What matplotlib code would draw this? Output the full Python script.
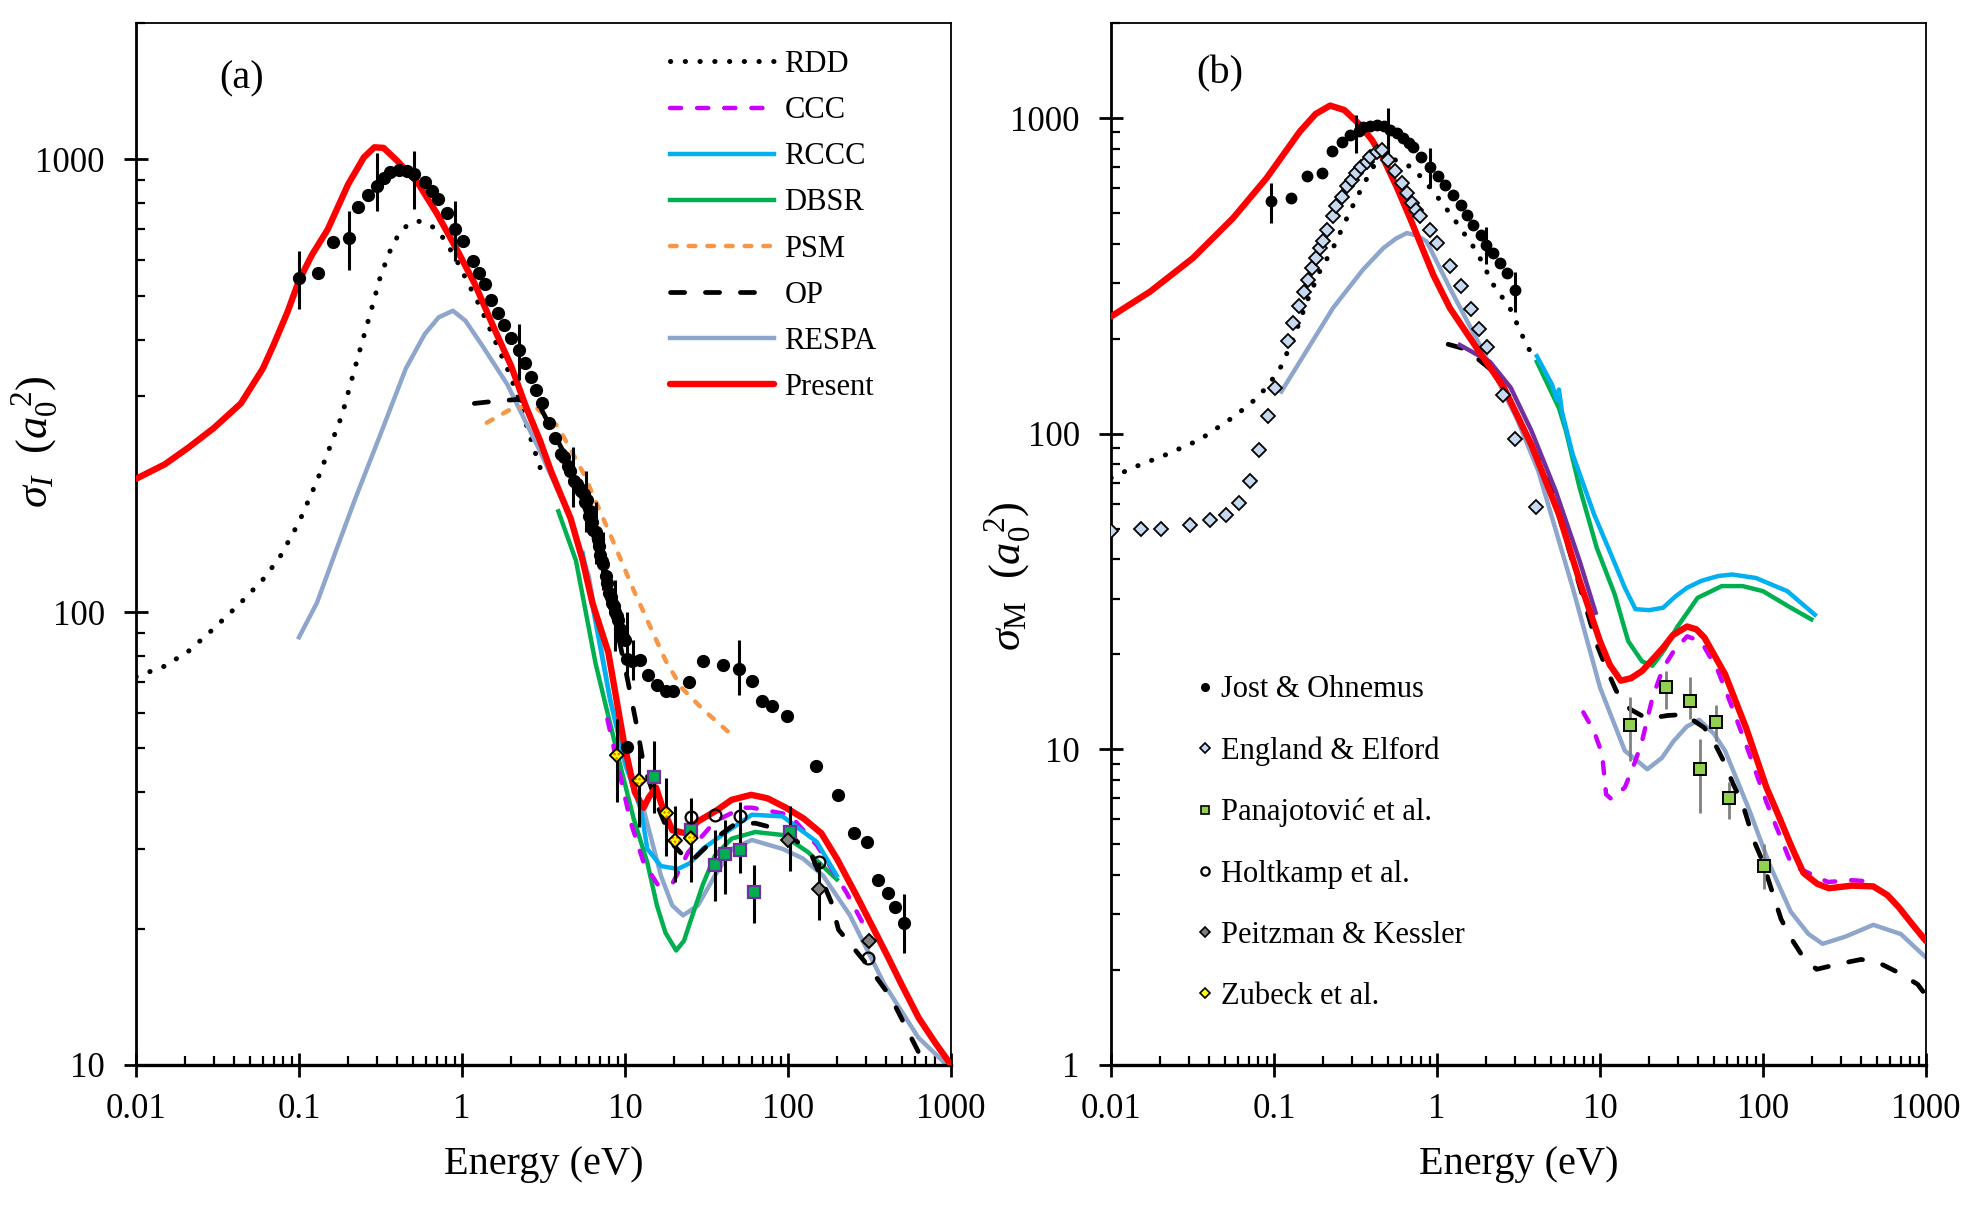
import matplotlib
matplotlib.use('Agg')

import numpy as np
import matplotlib.pyplot as plt
from matplotlib.lines import Line2D
from matplotlib.ticker import LogLocator, FuncFormatter, NullFormatter

plt.rcParams['font.family'] = ['Liberation Serif', 'DejaVu Serif']
plt.rcParams['mathtext.fontset'] = 'custom'
plt.rcParams['mathtext.rm'] = 'Liberation Serif'
plt.rcParams['mathtext.it'] = 'Liberation Serif:italic'
plt.rcParams['hatch.linewidth'] = 1.2

# ---------------- panel (a): sigma_I ----------------
a_present_e = [0.01, 0.015, 0.021, 0.03, 0.044, 0.06, 0.07, 0.085, 0.1, 0.12, 0.15, 0.2, 0.25, 0.29, 0.33,
               0.4, 0.54, 0.7, 0.93, 1.2, 1.59, 2.0, 2.47, 3.0, 3.55, 4.64, 5.5, 6.3, 7.9, 9.9, 11.5,
               13.0, 14.0, 15.5, 17.0, 19.5, 23.4, 28, 36.5, 45, 59.5, 75, 97, 125, 160, 200, 261,
               330, 411, 500, 634, 800, 1000]
a_present = [197, 212, 231, 255, 289, 345, 390, 460, 540, 615, 700, 880, 1010, 1063, 1060,
             993, 883, 760, 632, 530, 420, 350, 284, 240, 203, 161, 130, 105, 81.5, 51, 40,
             37, 39, 41, 37, 33, 32.5, 34.5, 36.5, 38.5, 39.5, 38.8, 37, 35, 32.5, 28.5, 23.8,
             20.2, 17.3, 15, 12.7, 11.2, 10]

a_rdd_e = [0.01, 0.015, 0.021, 0.03, 0.044, 0.06, 0.076, 0.1, 0.129, 0.155, 0.184, 0.21, 0.24, 0.28,
           0.316, 0.36, 0.41, 0.47, 0.54, 0.62, 0.71, 0.8, 0.93, 1.3, 2.0, 3.2]
a_rdd = [72, 76, 82, 92, 105, 118, 132, 158, 195, 232, 273, 325, 387, 470,
         552, 625, 685, 720, 730, 720, 697, 655, 597, 470, 330, 195]

a_respa_e = [0.1, 0.129, 0.169, 0.22, 0.316, 0.452, 0.59, 0.72, 0.88, 1.05, 1.33, 1.89, 2.97, 4.5,
             6.0, 8.0, 10.0, 13.1, 16.6, 19.5, 22.7, 28, 35.6, 45.3, 60, 92.7, 123, 164, 240, 389,
             630, 1000]
a_respa = [88, 105, 137, 177, 247, 345, 411, 448, 463, 440, 388, 319, 229, 165,
           120, 66, 46, 36.3, 26.2, 22.5, 21.4, 22.5, 26.2, 30, 31.4, 30, 28.6, 26.2, 21.4, 15.1,
           11.5, 9.8]

a_dbsr_e = [3.9, 5.0, 6.6, 9.2, 11.3, 13.7, 15.7, 17.7, 20.6, 23, 25, 30, 35.6, 45, 63, 93, 133, 199]
a_dbsr = [167, 130, 77, 47, 35, 28, 22.5, 19.6, 17.9, 18.8, 20.6, 25, 29, 31.6, 32.7, 32.2, 29.5, 25.7]

a_rccc_e = [5.5, 8.1, 10.3, 12.6, 13.7, 16.6, 21.1, 25, 30, 39.4, 60, 92.7, 150, 199]
a_rccc = [135, 64, 45, 36.3, 30, 27.5, 27.1, 27.9, 30, 32.2, 35.7, 35.4, 31.1, 26.2]

a_ccc_e = [7.8, 10.8, 13, 15.9, 19.7, 24.4, 35.6, 52.4, 60, 102, 150, 229, 300]
a_ccc = [58, 34.5, 28, 25, 25.3, 29.5, 34.5, 37, 37, 35.7, 30.6, 24, 20]

a_psm_e = [1.42, 2.0, 2.72, 3.88, 5.55, 7.95, 11.4, 17.8, 22.3, 30.5, 45.6, 48]
a_psm = [262, 281, 287, 257, 203, 151, 111, 78, 68, 60.7, 53.4, 52.5]

a_op_e = [1.19, 1.55, 2.2, 3.0, 4.5, 6.0, 8.0, 10.2, 11.7, 13.1, 16, 20, 25, 35.6, 47, 63, 76,
          110, 140, 185, 204, 300, 428, 630, 740]
a_op = [289, 292, 295, 285, 215, 160, 110, 73, 57, 45.5, 37, 30.5, 28, 31.6, 34, 34.2, 33.6,
        31.5, 29, 22.8, 19.9, 16.8, 14.1, 10.7, 9.8]

a_jost_e = [0.1, 0.131, 0.162, 0.202, 0.231, 0.264, 0.302, 0.33, 0.36, 0.41, 0.46, 0.51, 0.59, 0.65,
            0.71, 0.81, 0.905, 1.01, 1.16, 1.27, 1.39, 1.51, 1.66, 1.81, 1.99, 2.23, 2.44, 2.64,
            2.84, 3.1, 3.4, 3.7, 4.07, 4.2, 4.44, 4.6, 4.87, 5.1, 5.3, 5.4, 5.6, 5.7, 5.82, 6.0,
            6.1, 6.3, 6.4, 6.6, 6.8, 6.9, 7.0, 7.2, 7.3, 7.6, 7.8, 8.0, 8.2, 8.3, 8.5, 8.7, 8.9,
            9.1, 9.3, 9.5, 9.7, 10.0, 10.3, 10.3, 11.0, 12.3, 13.9, 15.7, 17.9, 19.7,
            24.8, 30.2, 39.7, 49.8, 60, 69.6, 80, 99, 148, 203, 254, 305, 357, 410, 455, 513]
a_jost = [546, 560, 656, 671, 785, 832, 874, 909, 936, 945, 940, 927, 890, 850,
          817, 763, 700, 659, 597, 562, 531, 490, 458, 431, 403, 380, 355, 330,
          310, 289, 262, 242, 224, 220, 210, 205, 195, 192, 187, 185, 182, 175, 177, 163,
          167, 158, 152, 150, 145, 140, 134, 130, 128, 120, 116, 110, 108, 105, 103, 100, 98,
          96, 92, 90, 88, 87, 79, 50.5, 78, 78.5, 72.8, 69.2, 66.9, 66.9,
          70, 78, 76.6, 75, 70.4, 63.5, 62.2, 58.9, 45.7, 39.5, 32.5, 31, 25.6, 24, 22.3, 20.6]
a_jost_bar_e = [0.1, 0.202, 0.302, 0.51, 0.905, 2.23, 4.8, 5.8, 6.6, 7.3, 8.65, 10.3, 11.2, 50, 513]
a_jost_bar_lo = [466, 571, 770, 778, 597, 325, 171, 150, 128, 112, 82, 71, 71, 65.5, 17.7]
a_jost_bar_hi = [626, 770, 1031, 1041, 808, 432, 232, 205, 175, 150, 118, 100, 87, 87, 23.9]

a_square_e = [15.1, 25.3, 35.6, 40.8, 51, 61.7, 103]
a_square = [43.2, 33.1, 27.6, 29.3, 29.9, 24.1, 32.7]
a_square_lo = [36, 25.3, 23, 23.9, 26.5, 20.6, 26.8]
a_square_hi = [52, 38.8, 33, 34.8, 38, 27.6, 37.4]

a_holt_e = [25.3, 35.6, 51, 155, 311]
a_holt = [35.2, 35.7, 35.4, 28.1, 17.2]

a_peitz_e = [100, 155, 313]
a_peitz = [31.4, 24.5, 18.8]
a_peitz_lo = [31.4, 20.9, 18.8]
a_peitz_hi = [31.4, 28.1, 18.8]

a_zub_e = [8.9, 12.2, 17.9, 20.3, 25.3]
a_zub = [48.3, 42.5, 36, 31.3, 31.7]
a_zub_lo = [38, 33.5, 29, 25.3, 31.7]
a_zub_hi = [58, 52, 43, 37.4, 31.7]

# ---------------- panel (b): sigma_M ----------------
b_present_e = [0.01, 0.0174, 0.0318, 0.0561, 0.09, 0.144, 0.18, 0.221, 0.27, 0.337, 0.4, 0.468, 0.57,
               0.683, 0.95, 1.2, 1.75, 2.57, 3.8, 5.6, 7.5, 10, 11.5, 13.4, 15.5, 18.1, 24.4, 28,
               34.2, 39, 43.7, 58.5, 78.7, 105, 124, 150, 177, 215, 254, 350, 475, 581, 681, 820, 1000]
b_present = [235, 282, 360, 482, 645, 906, 1030, 1095, 1060, 951, 850, 745, 600,
             482, 318, 250, 187, 140, 92, 55.5, 34.1, 22, 18.5, 16.5, 16.8, 17.7, 21, 23,
             24.5, 24, 22.6, 17.3, 11.7, 7.57, 6.2, 4.9, 4.06, 3.75, 3.63, 3.7, 3.68, 3.45, 3.16, 2.8, 2.47]

b_rdd_e = [0.01, 0.0136, 0.022, 0.035, 0.0537, 0.0713, 0.09, 0.109, 0.131, 0.159, 0.191, 0.23, 0.292,
           0.353, 0.447, 0.593, 0.716, 0.95, 1.26, 1.75, 2.21, 2.8, 3.39, 3.9]
b_rdd = [72.4, 78, 86, 95.7, 111, 124, 140, 161, 199, 262, 327, 387, 505,
         614, 764, 728, 693, 585, 482, 378, 297, 250, 201, 174]

b_respa_e = [0.111, 0.23, 0.35, 0.468, 0.56, 0.652, 0.75, 0.865, 1.2, 1.92, 3.08, 4.19, 6.8, 10, 14.2,
             19.5, 24, 28.2, 34, 40.6, 50, 58.5, 82.6, 110, 148, 190, 232, 320, 475, 700, 1000]
b_respa = [136, 250, 330, 387, 415, 432, 425, 406, 289, 182, 112, 76, 32.5, 15.7, 9.9,
           8.65, 9.4, 10.6, 11.8, 12.4, 11.2, 9.9, 6.4, 4.3, 3.06, 2.6, 2.42, 2.55, 2.78, 2.6, 2.19]

b_op_e = [1.17, 1.51, 2.33, 3.61, 4.86, 9.55, 11.1, 12.6, 15.3, 19.5, 26, 33, 43.7, 50.7, 58.5, 64.6,
          75, 81, 87, 98, 129, 148, 177, 213, 305, 400, 520, 680, 890, 1000]
b_op = [192, 185, 154, 97, 70.8, 21.5, 17.7, 15.3, 13.4, 12.5, 12.8, 12.9, 11.7, 10.4, 9.0, 7.9,
        6.7, 5.9, 5.2, 4.5, 2.9, 2.53, 2.19, 2.01, 2.1, 2.16, 2.1, 1.96, 1.8, 1.66]

b_purple_e = [1.38, 2.11, 2.83, 3.8, 5.35, 7.5, 9.4]
b_purple = [191, 169, 140, 102, 65.8, 39.5, 27.1]

b_rccc_e = [4.1, 5.08, 5.45, 5.6, 5.85, 6.8, 9.2, 11.7, 14.2, 16.5, 20, 24.4, 29, 34.2, 42, 53, 64.6,
            90.5, 141, 208]
b_rccc = [176, 143, 128, 138, 117, 86, 55.5, 41.4, 32.5, 27.8, 27.6, 28.1, 30.5, 32.5, 34.2, 35.4, 35.8,
          34.9, 31.7, 26.7]

b_dbsr_e = [4.1, 5.6, 6.18, 7.5, 9.55, 12.3, 14.9, 18.1, 21, 25, 29.6, 39.7, 55.9, 75, 100, 148, 198]
b_dbsr = [169, 120.5, 102, 67.4, 43.5, 31, 22, 19.0, 18.4, 20.8, 24.3, 30.2, 32.9, 32.9, 31.7, 28.1, 25.8]

b_ccc_e = [7.9, 9.2, 10.3, 10.9, 11.7, 14.2, 16.5, 18.1, 21, 24.4, 28.2, 34.2, 41.7, 53, 64.6, 82.6,
           105, 150, 250, 350, 500]
b_ccc = [13.1, 11.4, 9.66, 7.2, 6.97, 7.57, 9.2, 10.6, 14.6, 18.1, 20.4, 22.8, 22, 17.7, 13.6, 9.66,
         6.8, 4.3, 3.8, 3.85, 3.8]

b_jost_e = [0.0955, 0.127, 0.159, 0.196, 0.228, 0.26, 0.292, 0.33, 0.353, 0.39, 0.43, 0.47, 0.515, 0.57,
            0.62, 0.67, 0.716, 0.8, 0.905, 1.02, 1.12, 1.26, 1.4, 1.53, 1.66, 1.85, 2.0, 2.2, 2.44,
            2.7, 3.0]
b_jost = [544, 560, 653, 669, 787, 838, 884, 910, 939, 945, 947, 945, 917, 895,
          863, 832, 812, 755, 702, 653, 614, 571, 531, 494, 459, 427, 397, 373, 347,
          323, 286]
b_jost_bar_e = [0.0955, 0.32, 0.5, 0.905, 2.0, 3.0]
b_jost_bar_lo = [464, 773, 766, 599, 344, 243]
b_jost_bar_hi = [621, 1025, 1072, 802, 453, 326]

b_eng_e = [0.01, 0.0152, 0.0203, 0.0305, 0.0405, 0.0508, 0.0613, 0.0713, 0.0813, 0.0914, 0.1014, 0.122,
           0.131, 0.143, 0.153, 0.162, 0.17, 0.18, 0.191, 0.2, 0.21, 0.23, 0.24, 0.26, 0.28, 0.30,
           0.32, 0.34, 0.37, 0.39, 0.427, 0.46, 0.50, 0.55, 0.607, 0.65, 0.70, 0.74, 0.79, 0.905,
           1.0, 1.2, 1.4, 1.61, 1.81, 2.02, 2.53, 3.0, 4.03]
b_eng = [49.1, 49.8, 50, 51.5, 53.1, 55.2, 60.4, 71, 89, 114, 140, 196,
         224, 253, 281, 307, 335, 360, 387, 409, 443, 488, 525, 564, 607, 637,
         669, 702, 728, 755, 783, 790, 737, 677, 621, 578, 537, 512, 488, 443,
         401, 341, 293, 249, 214, 188, 133, 96, 58.5]

b_pan_e = [15.3, 25.5, 35.7, 41, 51.2, 61.6, 102]
b_pan = [11.9, 15.7, 14.2, 8.65, 12.2, 7.0, 4.26]
b_pan_lo = [9.2, 13.4, 12.5, 6.3, 10.6, 6.0, 3.6]
b_pan_hi = [14.6, 17.7, 16.9, 10.8, 13.8, 7.9, 5.0]

# ---------------- styles ----------------
RED = '#FF0000'
MAGENTA = '#CC00FF'
CYAN = '#00B0F0'
GREEN = '#00B050'
ORANGE = '#F79646'
RESPA_C = '#8EA6CB'
PURPLE = '#7030A0'

line_styles = {
    'RDD': dict(color='black', lw=3.6, dashes=(0.05, 2.9), dash_capstyle='round'),
    'CCC': dict(color=MAGENTA, lw=3.2, dashes=(2.5, 3.6), dash_capstyle='round'),
    'RCCC': dict(color=CYAN, lw=3.2),
    'DBSR': dict(color=GREEN, lw=3.2),
    'PSM': dict(color=ORANGE, lw=3.2, dashes=(1.5, 2.7), dash_capstyle='round'),
    'OP': dict(color='black', lw=3.4, dashes=(3.0, 4.4), dash_capstyle='round'),
    'RESPA': dict(color=RESPA_C, lw=3.2),
    'Present': dict(color=RED, lw=4.6, solid_capstyle='round'),
}

FS_TICK = 25
FS_LABEL = 29
FS_YLABEL = 32
FS_LEG = 22


def style_axes(ax, ylim):
    ax.set_xscale('log')
    ax.set_yscale('log')
    ax.set_xlim(0.01, 1000)
    ax.set_ylim(*ylim)
    fmt = FuncFormatter(lambda v, p: f'{v:g}')
    for axis in (ax.xaxis, ax.yaxis):
        axis.set_major_locator(LogLocator(base=10, numticks=12))
        axis.set_minor_locator(LogLocator(base=10, subs=np.arange(2, 10), numticks=60))
        axis.set_major_formatter(fmt)
        axis.set_minor_formatter(NullFormatter())
    ax.tick_params(which='major', direction='inout', length=17, width=2.0, labelsize=FS_TICK)
    ax.tick_params(which='minor', direction='in', length=6.5, width=1.6)
    ax.tick_params(axis='x', which='major', pad=12)
    ax.tick_params(axis='y', which='major', pad=14)
    ax.spines['left'].set_linewidth(2.0)
    ax.spines['bottom'].set_linewidth(2.4)
    ax.spines['top'].set_linewidth(1.3)
    ax.spines['right'].set_linewidth(1.3)
    ax.set_xlabel('Energy (eV)', fontsize=FS_LABEL)
    ax.xaxis.set_label_coords(0.5, -0.078)


def bars(ax, e, lo, hi, color='black', lw=2.2):
    ax.vlines(e, lo, hi, colors=color, lw=lw, zorder=4)


fig = plt.figure(figsize=(19.84, 12.06), dpi=100)
ax_a = fig.add_axes([0.06855, 0.11692, 0.41079, 0.86401])
ax_b = fig.add_axes([0.55998, 0.11692, 0.41079, 0.86401])

# ---------------- draw panel (a) ----------------
ax = ax_a
style_axes(ax, (10, 2000))
ax.plot(a_rdd_e, a_rdd, **line_styles['RDD'], zorder=2)
ax.plot(a_respa_e, a_respa, **line_styles['RESPA'], zorder=2)
ax.plot(a_psm_e, a_psm, **line_styles['PSM'], zorder=2)
ax.plot(a_dbsr_e, a_dbsr, **line_styles['DBSR'], zorder=2)
ax.plot(a_ccc_e, a_ccc, **line_styles['CCC'], zorder=2)
ax.plot(a_rccc_e, a_rccc, **line_styles['RCCC'], zorder=2)
ax.plot(a_op_e, a_op, **line_styles['OP'], zorder=2)
ax.plot(a_present_e, a_present, **line_styles['Present'], zorder=3)

bars(ax, a_jost_bar_e, a_jost_bar_lo, a_jost_bar_hi)
bars(ax, a_square_e, a_square_lo, a_square_hi)
bars(ax, a_peitz_e, a_peitz_lo, a_peitz_hi)
bars(ax, a_zub_e, a_zub_lo, a_zub_hi)
ax.plot(a_jost_e, a_jost, 'o', color='black', ms=8.5, zorder=5)
ax.plot(a_square_e, a_square, 's', mfc=GREEN, mec=PURPLE, mew=1.6, ms=8.5, zorder=6)
ax.plot(a_holt_e, a_holt, 'o', mfc='none', mec='black', mew=1.6, ms=8.5, zorder=6)
ax.plot(a_peitz_e, a_peitz, 'D', mfc='#7F7F7F', mec='black', mew=1.4, ms=7, zorder=6)
ax.scatter(a_zub_e, a_zub, marker='D', s=49, facecolor='#FFFF00', edgecolor='#FF5A00',
           hatch='....', linewidths=0, zorder=6)
ax.scatter(a_zub_e, a_zub, marker='D', s=49, facecolor='none', edgecolor='black',
           linewidths=1.4, zorder=7)

ax.set_ylabel(r'$\sigma_{I}\ \ (a_0^{\ 2})$', fontsize=FS_YLABEL)
ax.yaxis.set_label_coords(-0.092, 0.598)
ax.text(0.13, 0.946, '(a)', transform=ax.transAxes, ha='center', va='center', fontsize=FS_LABEL)

line_handles = [Line2D([], [], **line_styles[k]) for k in line_styles]
ax.legend(line_handles, list(line_styles.keys()), loc='upper left',
          bbox_to_anchor=(0.655, 0.974), frameon=False, fontsize=FS_LEG,
          handlelength=3.4, handletextpad=0.35, labelspacing=0.56,
          borderpad=0, borderaxespad=0)

# ---------------- draw panel (b) ----------------
ax = ax_b
style_axes(ax, (1, 2000))
ax.plot(b_rdd_e, b_rdd, **line_styles['RDD'], zorder=2)
ax.plot(b_respa_e, b_respa, **line_styles['RESPA'], zorder=2)
ax.plot(b_dbsr_e, b_dbsr, **line_styles['DBSR'], zorder=2)
ax.plot(b_rccc_e, b_rccc, **line_styles['RCCC'], zorder=2)
ax.plot(b_ccc_e, b_ccc, **line_styles['CCC'], zorder=2)
ax.plot(b_op_e, b_op, **line_styles['OP'], zorder=2)
ax.plot(b_purple_e, b_purple, color=PURPLE, lw=3.2, zorder=2)
ax.plot(b_present_e, b_present, **line_styles['Present'], zorder=3)

bars(ax, b_jost_bar_e, b_jost_bar_lo, b_jost_bar_hi)
bars(ax, b_pan_e, b_pan_lo, b_pan_hi, color='#808080', lw=2.0)
ax.plot(b_eng_e, b_eng, 'D', mfc='#C6D9F1', mec='black', mew=1.3, ms=6.8, zorder=5)
ax.plot(b_jost_e, b_jost, 'o', color='black', ms=7.5, zorder=6)
ax.plot(b_pan_e, b_pan, 's', mfc='#92D050', mec='black', mew=1.4, ms=8.5, zorder=6)

ax.set_ylabel(r'$\sigma_{\mathrm{M}}\ \ (a_0^{\ 2})$', fontsize=FS_YLABEL)
ax.yaxis.set_label_coords(-0.095, 0.469)
ax.text(0.134, 0.951, '(b)', transform=ax.transAxes, ha='center', va='center', fontsize=FS_LABEL)

marker_handles = [
    Line2D([], [], ls='none', marker='o', color='black', ms=5.5),
    Line2D([], [], ls='none', marker='D', mfc='#C6D9F1', mec='black', mew=1.2, ms=5.2),
    Line2D([], [], ls='none', marker='s', mfc='#92D050', mec='black', mew=1.2, ms=6),
    Line2D([], [], ls='none', marker='o', mfc='none', mec='black', mew=1.6, ms=6),
    Line2D([], [], ls='none', marker='D', mfc='#7F7F7F', mec='black', mew=1.2, ms=5.2),
    Line2D([], [], ls='none', marker='D', mfc='#FFFF00', mec='black', mew=1.2, ms=5.2),
]
marker_labels = ['Jost & Ohnemus', 'England & Elford', 'Panajotović et al.',
                 'Holtkamp et al.', 'Peitzman & Kessler', 'Zubeck et al.']
ax.legend(marker_handles, marker_labels, loc='upper left', bbox_to_anchor=(0.1035, 0.374),
          frameon=False, fontsize=FS_LEG, handlelength=0.6, handletextpad=0.25,
          labelspacing=1.05, borderpad=0, borderaxespad=0)

fig.savefig('out.png', dpi=100)
